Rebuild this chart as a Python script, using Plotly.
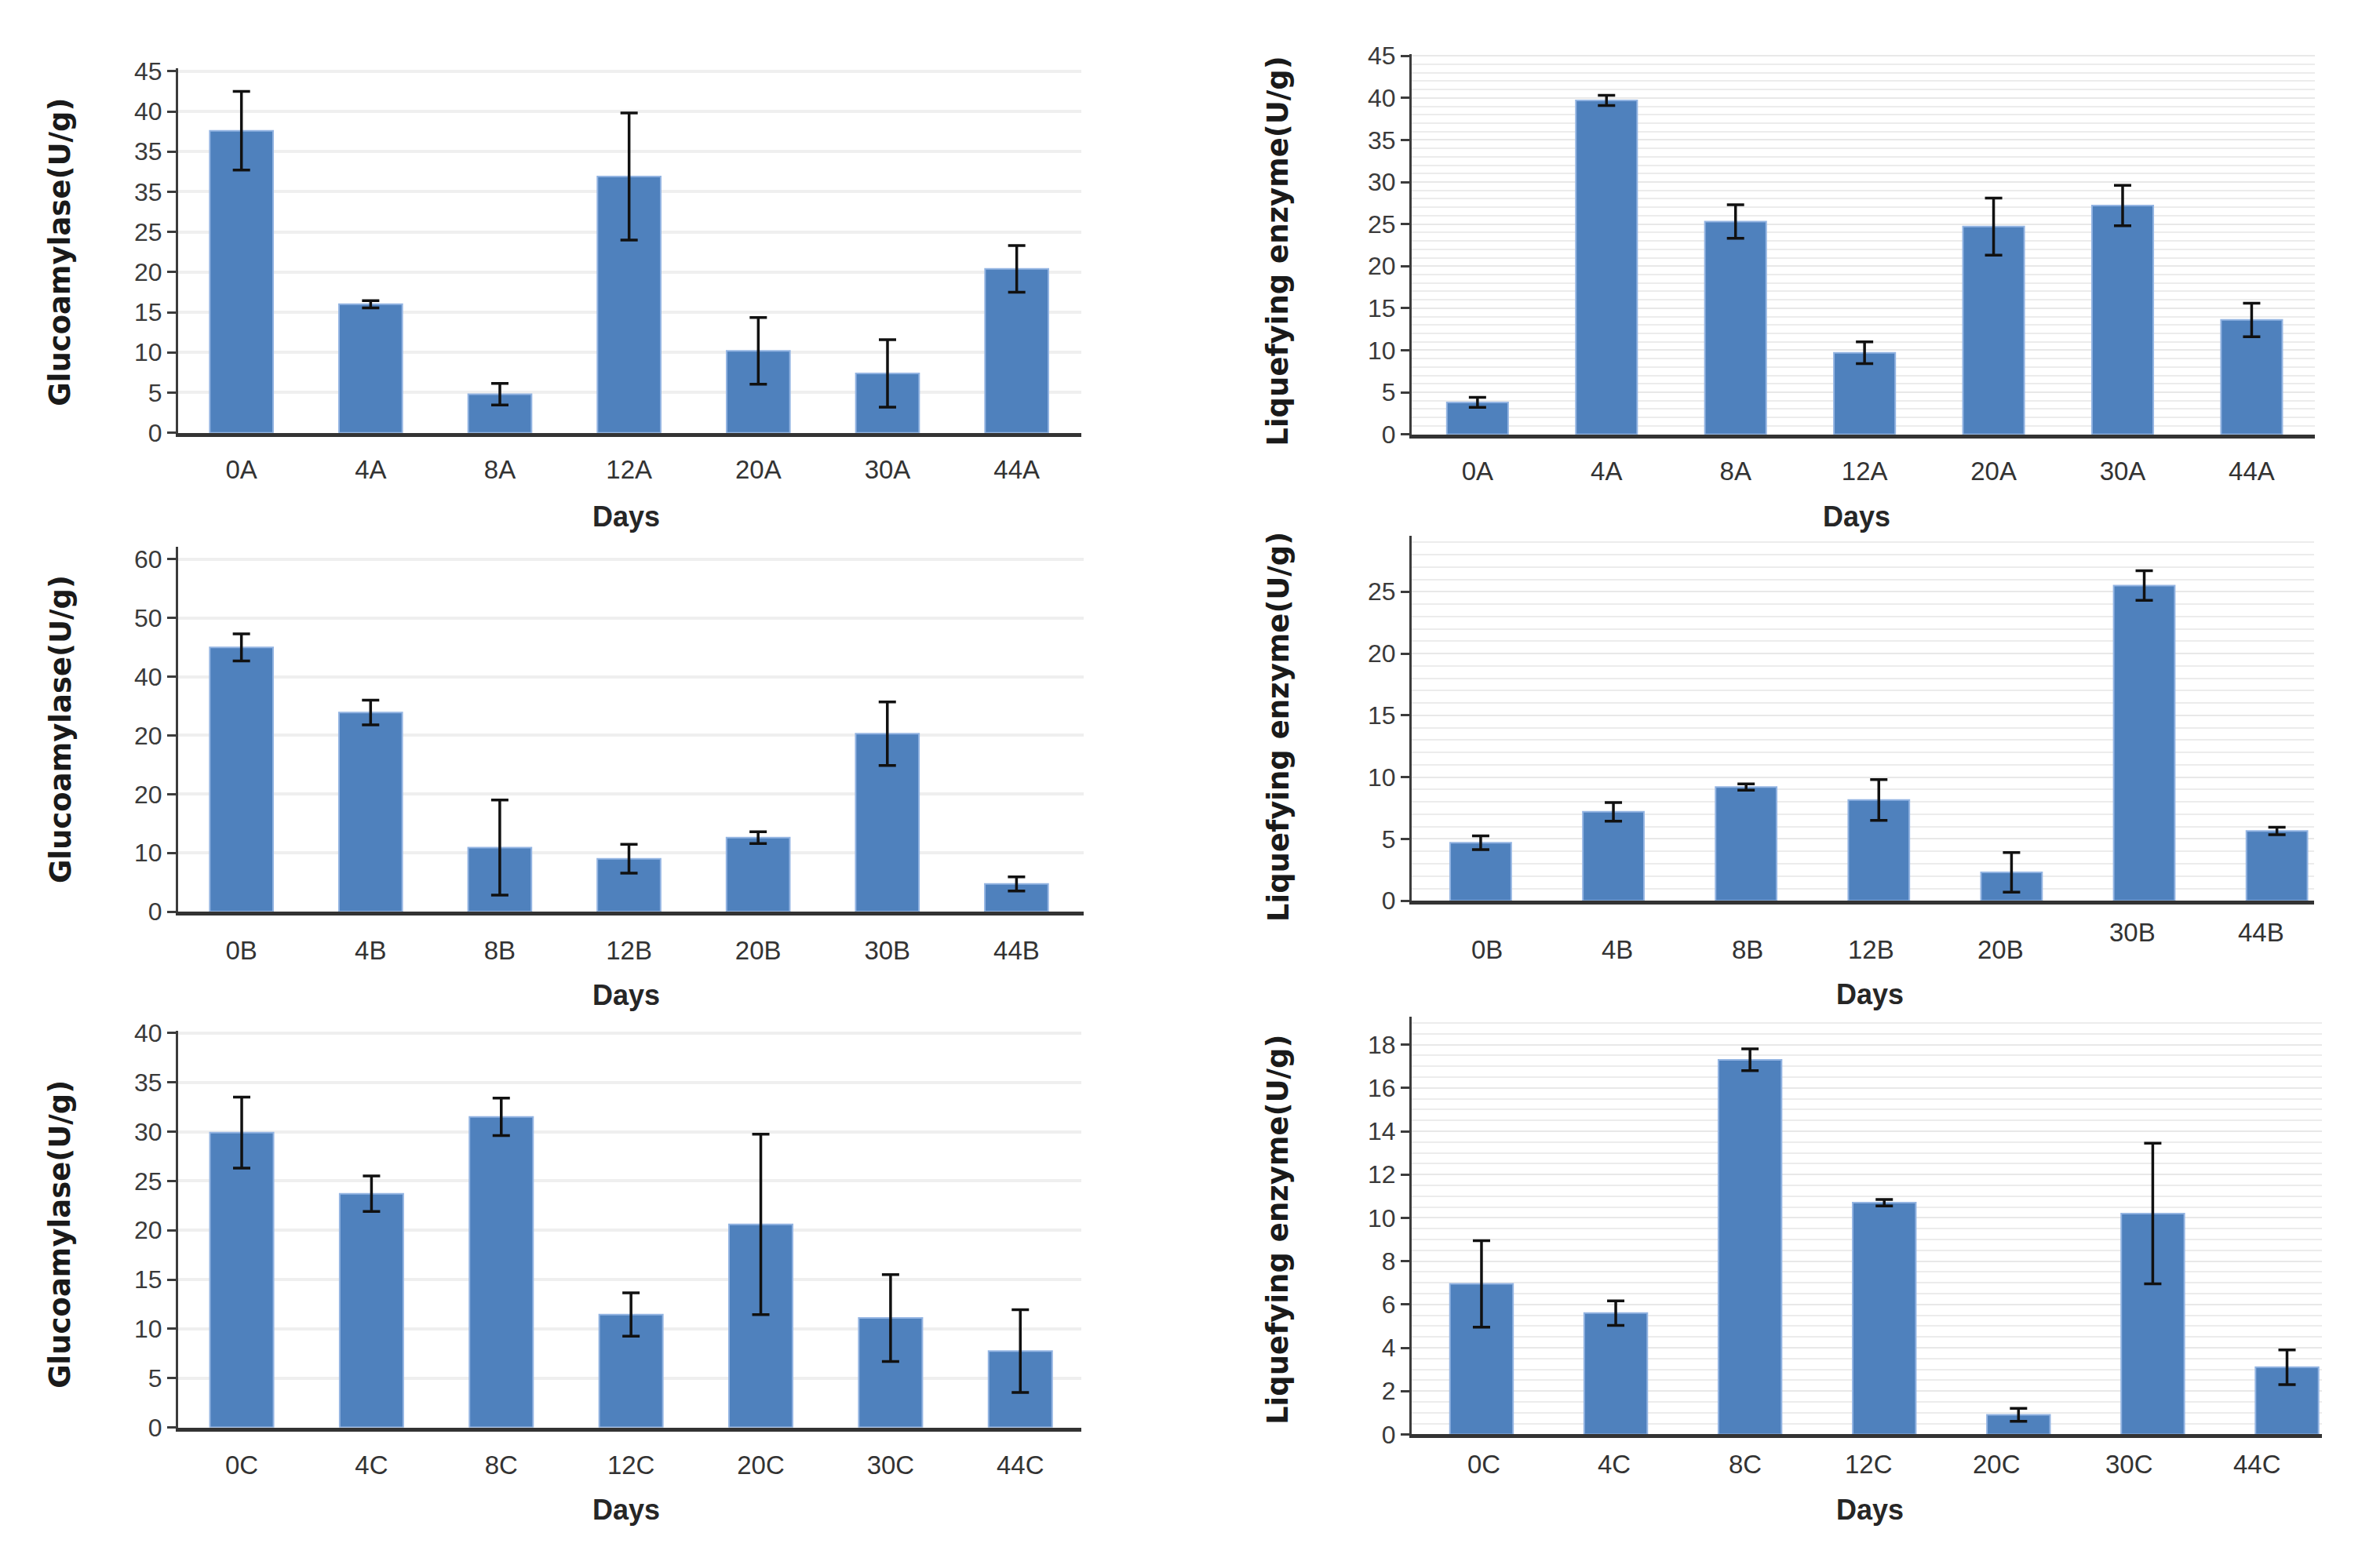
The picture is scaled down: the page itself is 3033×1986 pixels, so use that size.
import plotly.graph_objects as go
from plotly.subplots import make_subplots

# categories
days_A = ["0A", "4A", "8A", "12A", "20A", "30A", "44A"]
days_B = ["0B", "4B", "8B", "12B", "20B", "30B", "44B"]
days_C = ["0C", "4C", "8C", "12C", "20C", "30C", "44C"]

# glucoamylase (U/g), mean and error
gluco_A = [37.6, 16.0, 4.8, 31.9, 10.2, 7.4, 20.4]
gluco_A_err = [4.9, 0.45, 1.35, 7.9, 4.15, 4.2, 2.9]
gluco_B = [45.0, 33.9, 10.9, 9.0, 12.6, 30.3, 4.7]
gluco_B_err = [2.3, 2.1, 8.1, 2.45, 1.0, 5.4, 1.2]
gluco_C = [29.9, 23.7, 31.5, 11.45, 20.6, 11.1, 7.75]
gluco_C_err = [3.6, 1.8, 1.9, 2.2, 9.15, 4.4, 4.2]

# liquefying enzyme (U/g), mean and error
liq_A = [3.8, 39.7, 25.3, 9.7, 24.7, 27.2, 13.6]
liq_A_err = [0.6, 0.6, 2.0, 1.3, 3.4, 2.4, 2.0]
liq_B = [4.7, 7.2, 9.2, 8.15, 2.3, 25.5, 5.65]
liq_B_err = [0.55, 0.75, 0.25, 1.65, 1.6, 1.2, 0.3]
liq_C = [6.95, 5.6, 17.3, 10.7, 0.9, 10.2, 3.1]
liq_C_err = [2.0, 0.57, 0.5, 0.15, 0.3, 3.25, 0.8]

# y tick values / labels (as printed on the original)
gluco_A_tickvals = [0, 5, 10, 15, 20, 25, 30, 35, 40, 45]
gluco_A_ticktext = ["0", "5", "10", "15", "20", "25", "35", "35", "40", "45"]
liq_A_tickvals = [0, 5, 10, 15, 20, 25, 30, 35, 40, 45]
liq_A_ticktext = ["0", "5", "10", "15", "20", "25", "30", "35", "40", "45"]
gluco_B_tickvals = [0, 10, 20, 30, 40, 50, 60]
gluco_B_ticktext = ["0", "10", "20", "20", "40", "50", "60"]
liq_B_tickvals = [0, 5, 10, 15, 20, 25]
liq_B_ticktext = ["0", "5", "10", "15", "20", "25"]
gluco_C_tickvals = [0, 5, 10, 15, 20, 25, 30, 35, 40]
gluco_C_ticktext = ["0", "5", "10", "15", "20", "25", "30", "35", "40"]
liq_C_tickvals = [0, 2, 4, 6, 8, 10, 12, 14, 16, 18]
liq_C_ticktext = ["0", "2", "4", "6", "8", "10", "12", "14", "16", "18"]

W, H = 3033, 1986
BAR = "#4f81bd"
TICK_FONT = dict(family="Liberation Sans, Arial", size=32, color="#3a3a3a")
CAT_FONT = dict(family="Liberation Sans, Arial", size=33, color="#333333")

fig = make_subplots(rows=3, cols=2)

# (row, col, x, y, err, tickvals, ticktext, yrange, xrange, x px, y px [bottom, top], minor grid, ticklen, bar width)
panels = [
    (1, 1, days_A, gluco_A, gluco_A_err, gluco_A_tickvals, gluco_A_ticktext, [0, 45.4], [-0.49, 6.5], [227, 1378], [545, 72], None, 14, 0.49),
    (1, 2, days_A, liq_A, liq_A_err, liq_A_tickvals, liq_A_ticktext, [0, 45.2], [-0.51, 6.49], [1799, 2950], [547, 54], 1, 14, 0.475),
    (2, 1, days_B, gluco_B, gluco_B_err, gluco_B_tickvals, gluco_B_ticktext, [0, 62.1], [-0.49, 6.52], [227, 1381], [1166, 693], None, 16, 0.49),
    (2, 2, days_B, liq_B, liq_B_err, liq_B_tickvals, liq_B_ticktext, [0, 29.5], [-0.52, 6.28], [1799, 2949], [1152, 679], 1, 0, 0.46),
    (3, 1, days_C, gluco_C, gluco_C_err, gluco_C_tickvals, gluco_C_ticktext, [0, 40.2], [-0.49, 6.47], [227, 1378], [1835, 1321], None, 15, 0.49),
    (3, 2, days_C, liq_C, liq_C_err, liq_C_tickvals, liq_C_ticktext, [0, 19.3], [-0.52, 6.26], [1799, 2959], [1844, 1302], 0.5, 0, 0.47),
]

for row, col, cats, vals, errs, tv, tt, yr, xr, xpx, ypx, minor, tlen, bw in panels:
    fig.add_trace(go.Bar(
        x=cats, y=vals, width=bw,
        marker=dict(color=BAR, line=dict(color="#93b4e2", width=2)),
        error_y=dict(type="data", array=errs, visible=True, color="#111111", thickness=3.5, width=11),
        showlegend=False,
    ), row=row, col=col)
    fig.update_xaxes(
        domain=[xpx[0] / W, xpx[1] / W], range=xr,
        showline=True, linecolor="#333333", linewidth=5,
        ticks="outside", ticklen=tlen, tickcolor="rgba(0,0,0,0)",
        tickfont=CAT_FONT,
        showgrid=False, zeroline=False,
        row=row, col=col)
    yax = dict(
        domain=[1 - ypx[0] / H, 1 - ypx[1] / H], range=yr,
        tickmode="array", tickvals=tv, ticktext=tt,
        showline=True, linecolor="#3c3c3c", linewidth=3,
        ticks="outside", ticklen=11, tickwidth=3, tickcolor="#3c3c3c",
        tickfont=TICK_FONT,
        showgrid=True, gridcolor="#efefef", gridwidth=4, zeroline=False,
    )
    if minor:
        yax["minor"] = dict(dtick=minor, showgrid=True, gridcolor="#ececec", gridwidth=2, ticks="")
        yax["gridwidth"] = 2
        yax["gridcolor"] = "#e8e8e8"
    fig.update_yaxes(row=row, col=col, **yax)

# in the right-hand B and C panels the category labels drift from the bars
# (and 30B / 44B sit higher), so they are placed as annotations
label_shift_B = [(8, 62), (5, 62), (2, 62), (-10, 62), (-14, 62), (-15, 40), (-20, 40)]
label_shift_C = [(3, 38), (-2, 38), (-6, 38), (-20, 38), (-28, 38), (-30, 38), (-38, 38)]
for axn, cats, shifts in [("4", days_B, label_shift_B), ("6", days_C, label_shift_C)]:
    fig.layout["xaxis" + axn].showticklabels = False
    for cat, (dx, dy) in zip(cats, shifts):
        fig.add_annotation(x=cat, y=0, xref="x" + axn, yref="y" + axn + " domain",
                           xshift=dx, yshift=-dy, text=cat, showarrow=False,
                           yanchor="middle", font=CAT_FONT)

# axis titles
ytitle_font = dict(family="DejaVu Sans", size=37, color="#1a1a1a", weight="bold")
days_font = dict(family="Liberation Sans, Arial", size=36, color="#262626", weight="bold")
ytitles = [
    ("Glucoamylase(U/g)", 77, 311), ("Liquefying enzyme(U/g)", 1629, 310),
    ("Glucoamylase(U/g)", 77, 930), ("Liquefying enzyme(U/g)", 1629, 927),
    ("Glucoamylase(U/g)", 77, 1585), ("Liquefying enzyme(U/g)", 1629, 1579),
]
for txt, px, py in ytitles:
    fig.add_annotation(x=px / W, y=1 - py / H, xref="paper", yref="paper", text=txt,
                       textangle=-90, showarrow=False, font=ytitle_font,
                       xanchor="center", yanchor="middle")
days_pos = [(798, 654), (2366, 654), (798, 1274), (2383, 1273), (798, 1942), (2383, 1942)]
for px, py in days_pos:
    fig.add_annotation(x=px / W, y=1 - py / H, xref="paper", yref="paper", text="Days",
                       showarrow=False, font=days_font, xanchor="center", yanchor="middle")

fig.update_layout(
    width=W, height=H,
    margin=dict(l=0, r=0, t=0, b=0),
    paper_bgcolor="white", plot_bgcolor="white",
)

fig.write_html("out.html", config={"displayModeBar": False},
               post_script="document.body.style.margin='0px';")
